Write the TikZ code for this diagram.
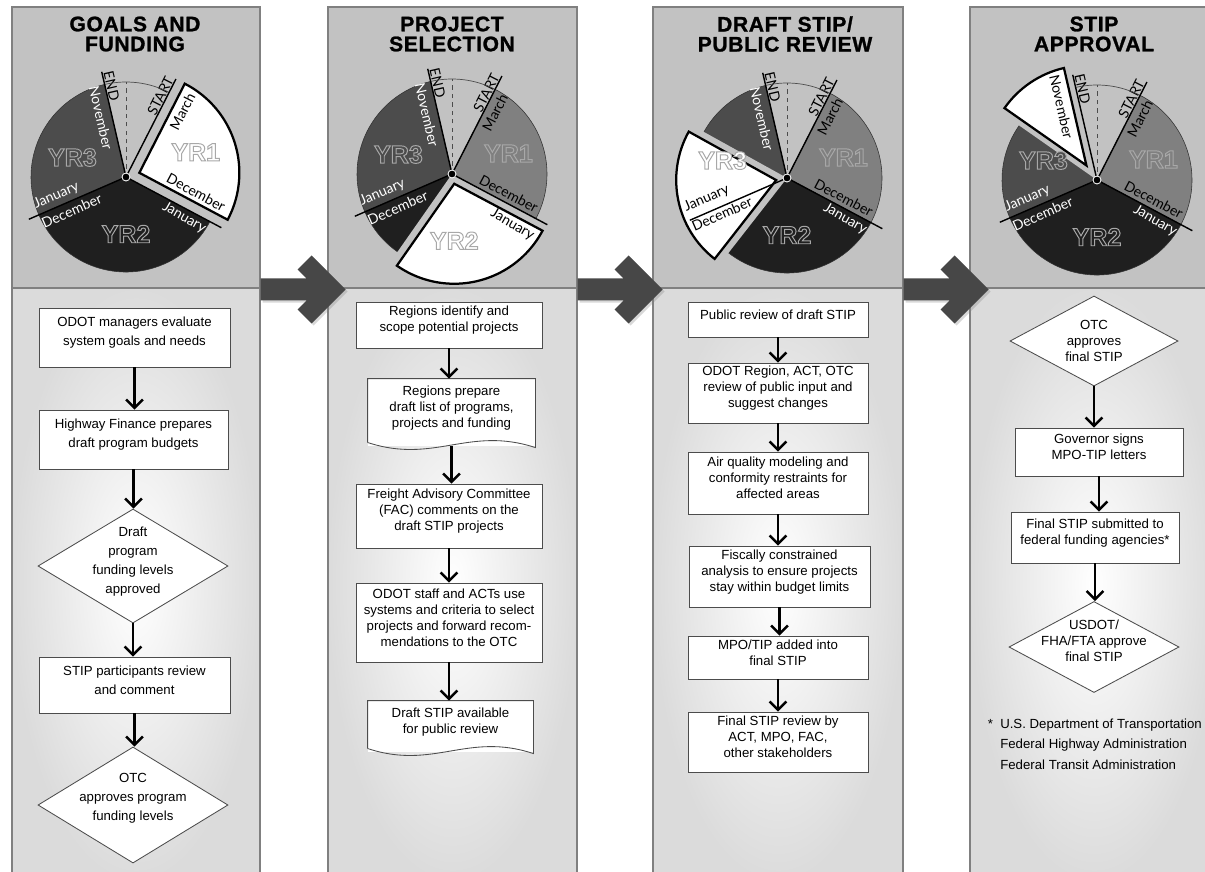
\documentclass[tikz,border=0pt]{standalone}
\usepackage{fontspec}
\setmainfont{Liberation Sans}
\newfontfamily\monthfont{Lato}
\newfontfamily\titlefont[LetterSpace=3, FakeBold=1.2]{Liberation Sans Bold}
\usetikzlibrary{arrows.meta,shapes.geometric,positioning,calc,fit,shadows}

\definecolor{headgray}{gray}{0.76}
\definecolor{bodyedge}{gray}{0.86}
\definecolor{panelline}{gray}{0.5}
\definecolor{boxline}{gray}{0.3}
\definecolor{yrone}{gray}{0.5}
\definecolor{yrtwo}{gray}{0.12}
\definecolor{yrthree}{gray}{0.3}
\definecolor{arrowgray}{gray}{0.28}

% outlined year text: fill in the node colour, light grey stroke
\newcommand{\yrtext}[1]{\special{pdf:literal direct 0.66 G 0.7 w 2 Tr}#1\special{pdf:literal direct 0 Tr}}

\tikzset{
  panel/.style={draw=panelline, line width=0.8pt, inner sep=0pt},
  title/.style={font=\titlefont\fontsize{15}{14.2}\selectfont, align=center},
  box/.style={draw=boxline, fill=white, line width=0.6pt, inner sep=0pt, align=left,
    font=\fontsize{9.4}{11.4}\selectfont},
  widebox/.style={box, font=\fontsize{9.4}{13.5}\selectfont},
  docbox/.style={box, draw=none},
  docline/.style={draw=boxline, line width=0.6pt},
  dia/.style={diamond, draw=boxline, fill=white, line width=0.6pt, inner sep=0pt},
  diatext/.style={align=center, inner sep=0pt, font=\fontsize{9.4}{11.4}\selectfont},
  flow/.style={line width=1.7pt, -{Straight Barb[length=6pt,width=12pt]}},
  % pie labels
  mlab/.style={font=\monthfont\fontsize{10}{10}\selectfont, inner sep=0pt},
  onlight/.style={text=black}, ondark/.style={text=white},
  yrlab/.style={font=\bfseries\fontsize{17.8}{18}\selectfont, inner sep=0pt},
  hlwedge/.style={fill=white, draw=black, line width=1.6pt},
  sector/.style={draw=black!80, line width=0.4pt},
  divline/.style={black, line width=1pt}
}

\newcommand{\panel}[3]{%
  \shade[inner color=white, outer color=bodyedge] (#2,288) rectangle (#3,880);
  \fill[headgray] (#2,7) rectangle (#3,288);
  \draw[panelline, line width=0.8pt] (#2,288) -- (#3,288);
  \node[panel, fit={(#2,7)(#3,880)}] (#1) {};}

% angle, radius, rotation, colour, text -- moved out with the wedge when inside it
\newcommand{\pielab}[5]{%
  \pgfmathtruncatemacro\inhl{((#1>=\hlfrom && #1<=\hlto) || (#1+360>=\hlfrom && #1+360<=\hlto)) ? 1 : 0}%
  \ifnum\inhl=1
    \node[mlab, rotate=#3, text=black] at ($(#1:#2)+(\hlang:\hlshift)$) {#5};
  \else
    \node[mlab, rotate=#3, #4] at (#1:#2) {#5};
  \fi}
\newcommand{\yrlabel}[4]{%
  \pgfmathtruncatemacro\inhl{((#1>=\hlfrom && #1<=\hlto) || (#1+360>=\hlfrom && #1+360<=\hlto)) ? 1 : 0}%
  \ifnum\inhl=1
    \node[yrlab, text=white] at ($(#1:#2)+(\hlang:\hlshift)$) {\yrtext{#4}};
  \else
    \node[yrlab, text=#3] at (#1:#2) {\yrtext{#4}};
  \fi}

% centre x, centre y, from, to, shift angle, shift length
\newcommand{\stippie}[6]{%
\begin{scope}[shift={(#1,#2)}, y=0.025cm]
  \def\hlfrom{#3}\def\hlto{#4}\def\hlang{#5}\def\hlshift{#6}
  \filldraw[sector, fill=yrone] (0,0) -- (-28:95) arc[start angle=-28, end angle=63, radius=95] -- cycle;
  \filldraw[sector, fill=yrtwo] (0,0) -- (203.5:95) arc[start angle=203.5, end angle=332, radius=95] -- cycle;
  \filldraw[sector, fill=yrthree] (0,0) -- (103:95) arc[start angle=103, end angle=203.5, radius=95] -- cycle;
  % cut out the months of this step
  \fill[headgray] (0,0) -- (#3:97) arc[start angle=#3, end angle=#4, radius=97] -- cycle;
  \draw[hlwedge, shift={(#5:#6)}] (0,0) -- (#3:100) arc[start angle=#3, end angle=#4, radius=100] -- cycle;
  \pielab{67}{88}{63}{onlight}{START}
  \pielab{55}{75}{63}{onlight}{March}
  \pielab{99}{92}{-77}{onlight}{END}
  \pielab{113}{64}{-77}{ondark}{November}
  \pielab{-19}{60}{-28}{onlight}{December}
  \pielab{-35}{71}{-30}{ondark}{January}
  \pielab{195}{72}{23.5}{ondark}{January}
  \pielab{212}{64}{23.5}{ondark}{December}
  \yrlabel{20}{60}{yrone}{YR1}
  \yrlabel{160}{57}{yrthree}{YR3}
  \yrlabel{270}{57}{yrtwo}{YR2}
  \draw[gray!60!black, line width=0.5pt] (63:95) arc[start angle=63, end angle=103, radius=95];
  \draw[gray!60!black, dashed, line width=0.6pt] (0,0) -- (90:95);
  \foreach \a/\l in {63/110, 103/108, 332/108, 203.5/106} \draw[divline] (0,0) -- (\a:\l);
  \fill[black, draw=white, line width=0.6pt] (0,0) circle[radius=4];
\end{scope}}

\newcommand{\bigarrow}[1]{%
  \fill[arrowgray, drop shadow={opacity=0.3, shadow xshift=1.5pt, shadow yshift=-1.5pt}]
    ([shift={(0,272)}]#1.north east) -- ++(46,0) -- ++(-9,-9) -- ++(14,-14) -- ++(34,34)
    -- ++(-34,34) -- ++(-14,-14) -- ++(9,-9) -- ++(-46,0) -- cycle;}

\begin{document}
\begin{tikzpicture}[x=0.025cm, y=-0.025cm]
\useasboundingbox[fill=white] (0,0) rectangle (1205,871);

% panels
\panel{pan1}{12}{260}
\panel{pan2}{328}{577}
\panel{pan3}{653}{903}
\panel{pan4}{970}{1218}

\node[title] (t1) at (135,34) {GOALS AND\\FUNDING};
\node[title] (t2) at (452,34) {PROJECT\\SELECTION};
\node[title] (t3) at (785,34) {DRAFT STIP/\\PUBLIC REVIEW};
\node[title] (t4) at (1094,34) {STIP\\APPROVAL};

% year wheels
\stippie{126}{177}{-28}{63}{17.5}{14}
\stippie{452}{174}{235}{332}{283}{10}
\stippie{787}{178}{151}{232}{191}{11}
\stippie{1097}{180}{103}{145}{126}{18}

\bigarrow{pan1}
\bigarrow{pan2}
\bigarrow{pan3}

% Goals and funding
\node[widebox, fit={(39,308)(230,367)}] (g1) {ODOT managers evaluate\\system goals and needs};
\node[widebox, fit={(39,410)(228,469)}] (g2) {Highway Finance prepares\\draft program budgets};
\node[dia, minimum width=4.75cm, minimum height=2.85cm] (g3) at (133,566) {};
\node[diatext, font=\fontsize{9.4}{13.5}\selectfont] (g3t) at (133,562) {Draft\\program\\funding levels\\approved};
\node[widebox, fit={(39,657)(230,713)}] (g4) {STIP participants review\\and comment};
\node[dia, minimum width=4.75cm, minimum height=2.9cm] (g5) at (133,805) {};
\node[diatext, font=\fontsize{9.4}{13.5}\selectfont] (g5t) at (133,798) {OTC\\approves program\\funding levels};

\draw[flow] (g1.south) -- (g1.south |- g2.north);
\draw[flow] (g2.south) -- (g2.south |- g3.north);
\draw[flow] (g3.south) -- (g3.south |- g4.north);
\draw[flow] (g4.south) -- (g4.south |- g5.north);

% Project selection
\node[box, fit={(356,302)(542,348)}] (s1) {Regions identify and\\scope potential projects};
\node[docbox, fit={(368,379)(535,446)}] (s2) {Regions prepare\\draft list of programs,\\projects and funding};
\draw[docline] (s2.south west) ++(0,-4) -- (s2.north west) -- (s2.north east) -- ++(0,69)
  .. controls ++(-67,-22) and ++(67,22) .. ([yshift=2.8pt]s2.south west);
\node[box, fit={(356,484)(542,548)}] (s3) {Freight Advisory Committee\\(FAC) comments on the\\draft STIP projects};
\node[box, fit={(356,583)(542,662)}] (s4) {ODOT staff and ACTs use\\systems and criteria to select\\projects and forward recom-\\mendations to the OTC};
\node[docbox, align=center, fit={(368,701)(533,752)}] (s5) {Draft STIP available\\for public review};
\draw[docline] (s5.south west) ++(0,-4) -- (s5.north west) -- (s5.north east) -- ++(0,53)
  .. controls ++(-66,-22) and ++(66,22) .. ([yshift=2.8pt]s5.south west);

\draw[flow] (s1.south) -- (s1.south |- s2.north);
\draw[flow] (s2.south) -- (s2.south |- s3.north);
\draw[flow] (s3.south) -- (s3.south |- s4.north);
\draw[flow] (s4.south) -- (s4.south |- s5.north);

% Draft STIP / public review
\node[box, fit={(688,302)(868,337)}] (r1) {Public review of draft STIP};
\node[box, fit={(688,363)(868,423)}] (r2) {ODOT Region, ACT, OTC\\review of public input and\\suggest changes};
\node[box, fit={(688,452)(868,514)}] (r3) {Air quality modeling and\\conformity restraints for\\affected areas};
\node[box, fit={(689,546)(870,607)}] (r4) {Fiscally constrained\\analysis to ensure projects\\stay within budget limits};
\node[box, fit={(688,636)(868,679)}] (r5) {MPO/TIP added into\\final STIP};
\node[box, fit={(688,712)(868,772)}] (r6) {Final STIP review by\\ACT, MPO, FAC,\\other stakeholders};

\foreach \a/\b in {r1/r2, r2/r3, r3/r4, r4/r5, r5/r6}
  \draw[flow] (\a.south) -- (\a.south |- \b.north);

% STIP approval
\node[dia, minimum width=4.2cm, minimum height=2.25cm] (a1) at (1094,341) {};
\node[diatext] (a1t) at (1094,341) {OTC\\approves\\final STIP};
\node[box, align=center, fit={(1015,428)(1183,476)}] (a2) {Governor signs\\MPO-TIP letters};
\node[box, fit={(1011,512)(1179,563)}] (a3) {Final STIP submitted to\\federal funding agencies*};
\node[dia, minimum width=4.25cm, minimum height=2.275cm] (a4) at (1094,647) {};
\node[diatext] (a4t) at (1094,641) {USDOT/\\FHA/FTA approve\\final STIP};

\draw[flow] (a1.south) -- (a1.south |- a2.north);
\draw[flow] (a2.south) -- (a2.south |- a3.north);
\draw[flow] (a3.south) -- (a3.south |- a4.north);

\node[anchor=west, align=left, inner sep=0pt, font=\fontsize{9.4}{14.6}\selectfont] (note) at (1000,744)
  {\llap{*\ \ }U.S. Department of Transportation\\Federal Highway Administration\\Federal Transit Administration};
\end{tikzpicture}
\end{document}
